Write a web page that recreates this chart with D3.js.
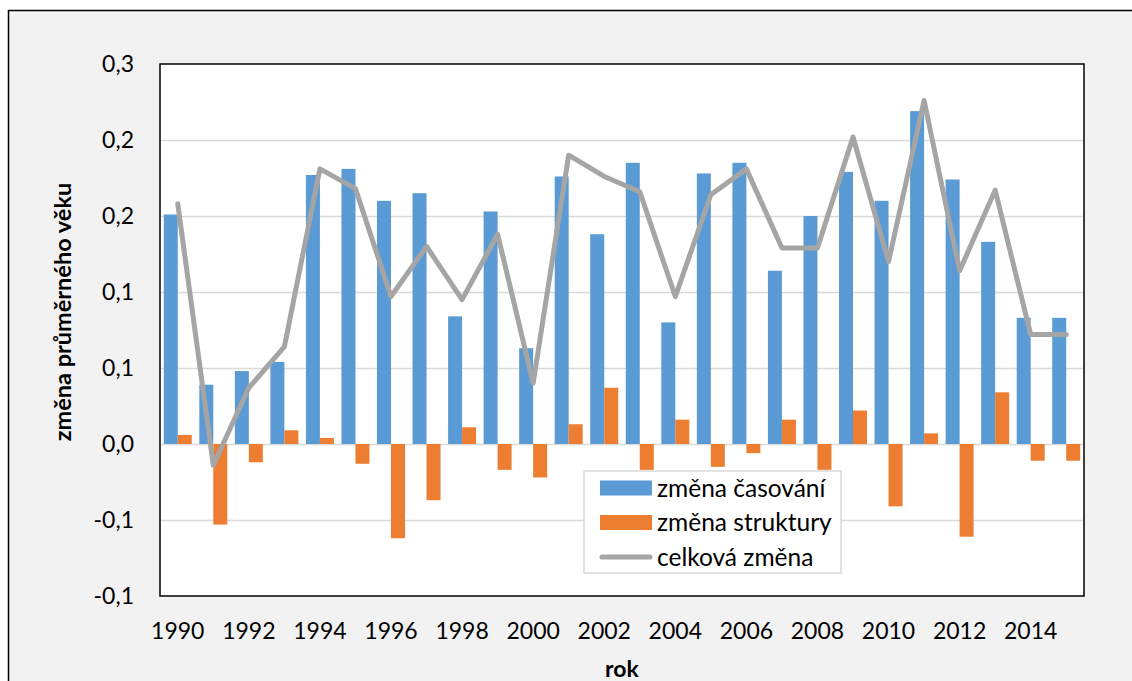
<!DOCTYPE html>
<html>
<head>
<meta charset="utf-8">
<script src="https://cdn.jsdelivr.net/npm/d3@7"></script>
<style>
    body { margin: 0; background: #fff; }
    svg { display: block; font-family: Lato, "Open Sans", sans-serif; }
</style>
</head>
<body>
<svg id="chart" width="1132" height="681"></svg>
<script>
const years = [1990, 1991, 1992, 1993, 1994, 1995, 1996, 1997, 1998, 1999, 2000, 2001, 2002,
               2003, 2004, 2005, 2006, 2007, 2008, 2009, 2010, 2011, 2012, 2013, 2014, 2015];

const zmenaCasovani = [0.151, 0.039, 0.048, 0.054, 0.177, 0.181, 0.160, 0.165, 0.084, 0.153, 0.063, 0.176, 0.138,
                       0.185, 0.080, 0.178, 0.185, 0.114, 0.150, 0.179, 0.160, 0.219, 0.174, 0.133, 0.083, 0.083];
const zmenaStruktury = [0.006, -0.053, -0.012, 0.009, 0.004, -0.013, -0.062, -0.037, 0.011, -0.017, -0.022, 0.013, 0.037,
                        -0.017, 0.016, -0.015, -0.006, 0.016, -0.017, 0.022, -0.041, 0.007, -0.061, 0.034, -0.011, -0.011];
const celkovaZmena = [0.158, -0.014, 0.037, 0.064, 0.181, 0.168, 0.097, 0.130, 0.095, 0.138, 0.040, 0.190, 0.176,
                      0.166, 0.097, 0.164, 0.181, 0.129, 0.129, 0.202, 0.120, 0.226, 0.114, 0.167, 0.072, 0.072];

const yTicks = [-0.1, -0.05, 0, 0.05, 0.1, 0.15, 0.2, 0.25];
const yTickLabels = ['-0,1', '-0,1', '0,0', '0,1', '0,1', '0,2', '0,2', '0,3'];
const xTickYears = [1990, 1992, 1994, 1996, 1998, 2000, 2002, 2004, 2006, 2008, 2010, 2012, 2014];

const seriesNames = ['změna časování', 'změna struktury', 'celková změna'];
const colors = ['#5b9bd5', '#ed7d31', '#a5a5a5'];

const plot = {left: 160, right: 1084, top: 64, bottom: 596};

const svg = d3.select('#chart');

// outer chart frame (runs off the right and bottom edge)
svg.append('rect')
    .attr('x', 8.5).attr('y', 10.5)
    .attr('width', 1140).attr('height', 700)
    .attr('fill', '#f2f2f2')
    .attr('stroke', '#000')
    .attr('stroke-width', 1.5);

svg.append('rect')
    .attr('x', plot.left).attr('y', plot.top)
    .attr('width', plot.right - plot.left).attr('height', plot.bottom - plot.top)
    .attr('fill', '#fff');

const x0 = d3.scaleBand()
    .domain(years)
    .range([plot.left, plot.right]);

const x1 = d3.scaleBand()
    .domain([0, 1])
    .range([0, x0.bandwidth()])
    .paddingOuter(0.27);

const y = d3.scaleLinear()
    .domain([-0.1, 0.25])
    .range([plot.bottom, plot.top]);

// gridlines
svg.append('g')
    .attr('transform', `translate(${plot.left},0)`)
    .call(d3.axisLeft(y).tickValues(yTicks.slice(1, -1)).tickSize(-(plot.right - plot.left)).tickFormat(''))
    .call(g => g.select('.domain').remove())
    .call(g => g.selectAll('line').attr('stroke', '#d9d9d9').attr('stroke-width', 1.5));

// bars
const rows = years.map((yr, i) => ({year: yr, vals: [zmenaCasovani[i], zmenaStruktury[i]]}));

svg.append('g')
    .selectAll('g')
    .data(rows)
    .join('g')
        .attr('transform', d => `translate(${x0(d.year)},0)`)
    .selectAll('rect')
    .data(d => d.vals.map((v, k) => ({k, v})))
    .join('rect')
        .attr('x', d => x1(d.k))
        .attr('width', x1.bandwidth())
        .attr('y', d => y(Math.max(0, d.v)))
        .attr('height', d => Math.abs(y(d.v) - y(0)))
        .attr('fill', d => colors[d.k]);

// line
const line = d3.line()
    .x((d, i) => x0(years[i]) + x0.bandwidth() / 2)
    .y(d => y(d));

svg.append('path')
    .datum(celkovaZmena)
    .attr('d', line)
    .attr('fill', 'none')
    .attr('stroke', colors[2])
    .attr('stroke-width', 5)
    .attr('stroke-linejoin', 'round')
    .attr('stroke-linecap', 'round');

// plot border
svg.append('rect')
    .attr('x', plot.left).attr('y', plot.top)
    .attr('width', plot.right - plot.left).attr('height', plot.bottom - plot.top)
    .attr('fill', 'none')
    .attr('stroke', '#000')
    .attr('stroke-width', 1.5);

// axes
svg.append('g')
    .attr('transform', `translate(${plot.left},0)`)
    .call(d3.axisLeft(y).tickValues(yTicks).tickSize(0).tickPadding(26)
        .tickFormat((d, i) => yTickLabels[i]))
    .call(g => g.select('.domain').remove())
    .call(g => g.selectAll('text').attr('font-size', 23).attr('fill', '#000')
        .attr('font-family', 'Lato, sans-serif'));

svg.append('g')
    .attr('transform', `translate(0,${plot.bottom})`)
    .call(d3.axisBottom(x0).tickValues(xTickYears).tickSize(0).tickPadding(27))
    .call(g => g.select('.domain').remove())
    .call(g => g.selectAll('text').attr('font-size', 23).attr('fill', '#000')
        .attr('font-family', 'Lato, sans-serif'));

svg.append('text')
    .attr('x', (plot.left + plot.right) / 2)
    .attr('y', 677)
    .attr('text-anchor', 'middle')
    .attr('font-size', 23)
    .attr('font-weight', 'bold')
    .text('rok');

svg.append('text')
    .attr('transform', 'translate(62,312) rotate(-90)')
    .attr('text-anchor', 'middle')
    .attr('dominant-baseline', 'central')
    .attr('font-size', 23.5)
    .attr('font-weight', 'bold')
    .text('změna průměrného věku');

// legend
const legend = svg.append('g').attr('transform', 'translate(584,471)');

legend.append('rect')
    .attr('width', 257).attr('height', 102)
    .attr('fill', '#fff')
    .attr('stroke', '#d9d9d9')
    .attr('stroke-width', 1.5);

const items = legend.selectAll('g')
    .data(seriesNames)
    .join('g')
        .attr('transform', (d, i) => `translate(16,${17 + i * 34.5})`);

items.filter((d, i) => i < 2)
    .append('rect')
        .attr('y', -7.5)
        .attr('width', 52).attr('height', 15)
        .attr('fill', (d, i) => colors[i]);

items.filter((d, i) => i === 2)
    .append('line')
        .attr('x1', 2).attr('x2', 50)
        .attr('stroke', colors[2])
        .attr('stroke-width', 5)
        .attr('stroke-linecap', 'round');

items.append('text')
    .attr('x', 57)
    .attr('dy', '0.35em')
    .attr('font-size', 24.5)
    .text(d => d);
</script>
</body>
</html>
